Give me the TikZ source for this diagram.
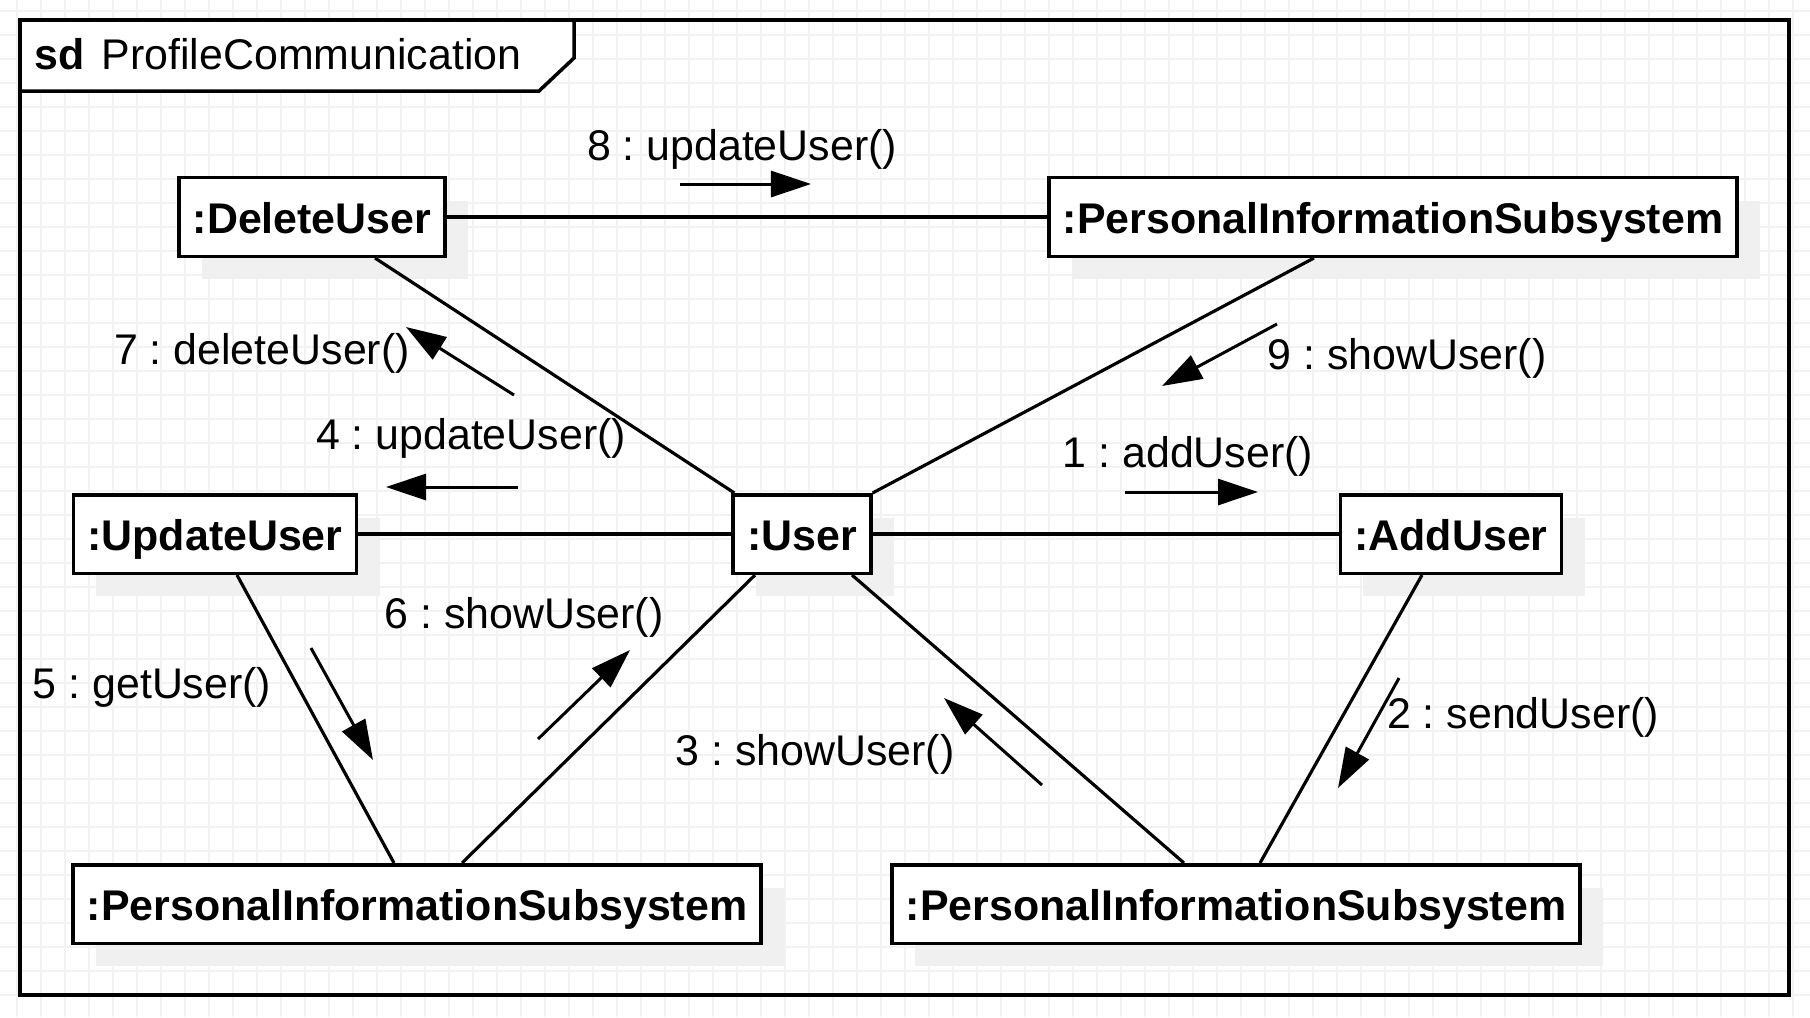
\documentclass[tikz,border=0pt]{standalone}
\usepackage{fontspec}
\setmainfont{Liberation Sans}
\usetikzlibrary{arrows.meta,calc,shadows}

\begin{document}
\frenchspacing
\begin{tikzpicture}[
  x=0.01cm, y=-0.01cm,
  font=\fontsize{12.2}{14}\selectfont,
  gridline/.style={draw=black!5, line width=0.4pt},
  obj/.style={draw, fill=white, line width=1pt, minimum height=0.785cm,
    inner xsep=0.14cm, text height=0.92em, text depth=0pt,
    font=\fontsize{12.2}{14}\selectfont\bfseries,
    general shadow={shadow xshift=0.23cm, shadow yshift=-0.23cm, fill=black!6}},
  link/.style={draw, line width=0.9pt},
  msg/.style={-{Triangle[length=0.4cm,width=0.26cm]}, line width=0.85pt},
  lbl/.style={inner sep=1pt}
]
\useasboundingbox (0,0) rectangle (1810,1017);
\fill[white] (0,0) rectangle (1810,1017);
% background grid
\foreach \gx in {17,41,...,1810}
  \draw[gridline] (\gx,0) -- (\gx,1017);
\foreach \gy in {11,35,...,1017}
  \draw[gridline] (0,\gy) -- (1810,\gy);

% frame
\draw[line width=1pt] (20,20) rectangle (1789,995);
\draw[line width=1pt, fill=white] (20,20) -- (574,20) -- (574,58) -- (539,91)
  -- (20,91) -- cycle;
\node[anchor=west, inner sep=0pt] (sdtag) at (34,54) {\textbf{sd}};
\node[anchor=west, inner sep=0pt] (title) at (101,54) {ProfileCommunication};

% objects
\node[obj] (del) at (312,217) {:DeleteUser};
\node[obj] (pisTop) at (1393,217) {:PersonalInformationSubsystem};
\node[obj] (upd) at (215,534) {:UpdateUser};
\node[obj] (user) at (802,534) {:User};
\node[obj] (add) at (1451,534) {:AddUser};
\node[obj] (pisLeft) at (417,904) {:PersonalInformationSubsystem};
\node[obj] (pisRight) at (1236,904) {:PersonalInformationSubsystem};

% links
\draw[link] (del) -- (pisTop);
\draw[link] ([xshift=0.63cm]del.south) -- ([xshift=0.03cm]user.north west);
\draw[link] ([xshift=-0.79cm]pisTop.south) -- (user.north east);
\draw[link] (upd) -- (user);
\draw[link] (user) -- (add);
\draw[link] ([xshift=0.22cm]upd.south) -- ([xshift=-0.23cm]pisLeft.north);
\draw[link] ([xshift=-0.47cm]user.south) -- ([xshift=0.45cm]pisLeft.north);
\draw[link] ([xshift=0.50cm]user.south) -- ([xshift=-0.52cm]pisRight.north);
\draw[link] ([xshift=-0.29cm]add.south) -- ([xshift=0.24cm]pisRight.north);

% messages
\coordinate (m1a) at (1125,492); \coordinate (m1b) at (1258,492);
\coordinate (m2a) at (1399,678); \coordinate (m2b) at (1338,788);
\coordinate (m3a) at (1042,785); \coordinate (m3b) at (944,698);
\coordinate (m4a) at (518,487);  \coordinate (m4b) at (386,487);
\coordinate (m5a) at (311,648);  \coordinate (m5b) at (373,760);
\coordinate (m6a) at (538,739);  \coordinate (m6b) at (630,650);
\coordinate (m7a) at (514,395);  \coordinate (m7b) at (406,327);
\coordinate (m8a) at (680,184);  \coordinate (m8b) at (811,184);
\coordinate (m9a) at (1277,324); \coordinate (m9b) at (1162,386);

\draw[msg] (m1a) -- (m1b);
\draw[msg] (m2a) -- (m2b);
\draw[msg] (m3a) -- (m3b);
\draw[msg] (m4a) -- (m4b);
\draw[msg] (m5a) -- (m5b);
\draw[msg] (m6a) -- (m6b);
\draw[msg] (m7a) -- (m7b);
\draw[msg] (m8a) -- (m8b);
\draw[msg] (m9a) -- (m9b);

\node[lbl] (l1) at (1188,456) {1 : addUser()};
\node[lbl] (l2) at (1523,717) {2 : sendUser()};
\node[lbl] (l3) at (815,754) {3 : showUser()};
\node[lbl] (l4) at (471,438) {4 : updateUser()};
\node[lbl] (l5) at (152,687) {5 : getUser()};
\node[lbl] (l6) at (524,617) {6 : showUser()};
\node[lbl] (l7) at (262,353) {7 : deleteUser()};
\node[lbl] (l8) at (742,149) {8 : updateUser()};
\node[lbl] (l9) at (1407,358) {9 : showUser()};
\end{tikzpicture}
\end{document}
